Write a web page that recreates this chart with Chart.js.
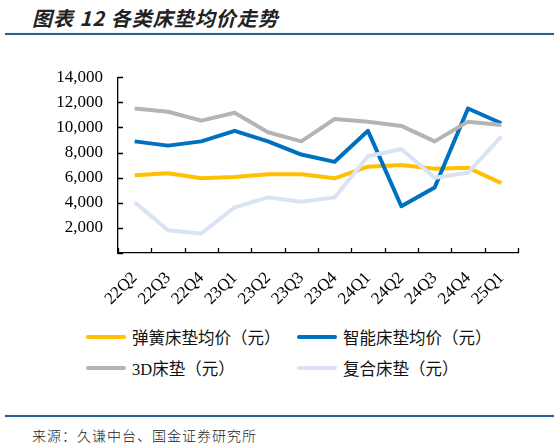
<!DOCTYPE html>
<html>
<head>
<meta charset="utf-8">
<script src="https://cdn.jsdelivr.net/npm/chart.js@4.4.1/dist/chart.umd.min.js"></script>
<style>
  body { margin: 0; background: #fff; width: 560px; height: 446px; position: relative; overflow: hidden;
         font-family: "Liberation Serif", "Noto Sans CJK SC", serif; color: #111; }
  #title { position: absolute; left: 32px; top: 3px; font-size: 20px; font-weight: bold; font-style: italic;
           font-family: "Noto Sans CJK SC", sans-serif; color: #222; letter-spacing: 1px; }
  .rule { position: absolute; left: 5px; width: 549px; height: 2px; background: #2A6391;
          box-shadow: 0 0 1px #7fa6c6; }
  #chartBox { position: absolute; left: 0; top: 60px; width: 540px; height: 255px; }
  #legend { position: absolute; left: 0; top: 0; }
  .item { position: absolute; height: 20px; display: flex; align-items: center; font-size: 16.5px; white-space: nowrap; }
  .swatch { width: 40px; height: 4px; border-radius: 2px; margin-right: 6px; }
  #source { position: absolute; left: 32px; top: 425px; font-size: 14px; color: #222;
            font-family: "Noto Sans CJK SC", sans-serif; font-weight: 300; letter-spacing: 1px; }
</style>
</head>
<body>
<div id="title">图表 12 各类床垫均价走势</div>
<div class="rule" style="top:33px"></div>
<div id="chartBox"><canvas id="priceChart"></canvas></div>
<div id="legend"></div>
<div class="rule" style="top:415px"></div>
<div id="source">来源：久谦中台、国金证券研究所</div>

<script>
// quarters on the x axis
const quarters = ['22Q2', '22Q3', '22Q4', '23Q1', '23Q2', '23Q3', '23Q4', '24Q1', '24Q2', '24Q3', '24Q4', '25Q1'];

// average prices, yuan
const springPrice = [6190, 6350, 5950, 6060, 6270, 6270, 5950, 6870, 7000, 6710, 6790, 5560];
const smartPrice = [8890, 8550, 8890, 9730, 8890, 7840, 7260, 9730, 3720, 5220, 11510, 10330];
const price3D = [11510, 11250, 10540, 11170, 9620, 8890, 10670, 10460, 10120, 8890, 10460, 10200];
const compositePrice = [4040, 1810, 1550, 3640, 4430, 4090, 4430, 7710, 8280, 6000, 6390, 9280];

const seriesNames = ['弹簧床垫均价（元）', '智能床垫均价（元）', '3D床垫（元）', '复合床垫（元）'];
const seriesColors = ['#FFC000', '#0070C0', '#B4B4B4', '#DAE3F3'];
const seriesData = [springPrice, smartPrice, price3D, compositePrice];

// y axis settings
const yMin = 0, yMax = 14000, yStep = 2000;

// legend is html so it can sit in two columns like the original
const legendSpots = [[86, 327], [297, 327], [86, 358], [297, 358]];
const legendEl = document.getElementById('legend');
seriesNames.forEach((name, i) => {
    const el = document.createElement('div');
    el.className = 'item';
    el.style.left = legendSpots[i][0] + 'px';
    el.style.top = legendSpots[i][1] + 'px';
    el.innerHTML = '<span class="swatch" style="background:' + seriesColors[i] + '"></span><span>' + name + '</span>';
    legendEl.appendChild(el);
});

// tick marks point into the plot, so draw them ourselves
const innerTicks = {
    id: 'innerTicks',
    afterDraw(chart) {
        const ctx = chart.ctx;
        const x = chart.scales.x, y = chart.scales.y;
        ctx.save();
        ctx.strokeStyle = '#000';
        ctx.lineWidth = 1.3;
        ctx.beginPath();
        for (let v = yMin; v <= yMax; v += yStep) {
            const py = Math.round(y.getPixelForValue(v)) + 0.5;
            ctx.moveTo(y.right, py);
            ctx.lineTo(y.right + 5, py);
        }
        for (let i = 0; i <= quarters.length; i++) {
            const px = Math.round(x.getPixelForValue(i - 0.5)) + 0.5;
            ctx.moveTo(px, x.top);
            ctx.lineTo(px, x.top - 5);
        }
        ctx.stroke();
        ctx.restore();
    }
};

const ctx = document.getElementById('priceChart').getContext('2d');
const priceChart = new Chart(ctx, {
    type: 'line',
    data: {
        labels: quarters,
        datasets: seriesData.map((d, i) => ({
            label: seriesNames[i],
            data: d,
            borderColor: seriesColors[i],
            backgroundColor: seriesColors[i],
            borderWidth: 4,
            pointRadius: 0,
            tension: 0,
            borderJoinStyle: 'round',
            order: seriesData.length - i
        }))
    },
    options: {
        responsive: true,
        maintainAspectRatio: false,
        animation: false,
        layout: { padding: { top: 17, right: 22, left: 0, bottom: 0 } },
        plugins: {
            legend: { display: false },
            tooltip: { enabled: false }
        },
        scales: {
            x: {
                offset: true,
                grid: { display: false, offset: true },
                border: { display: true, color: '#000', width: 1.3 },
                ticks: {
                    color: '#000',
                    font: { family: 'Liberation Serif', size: 17 },
                    minRotation: 45,
                    maxRotation: 45,
                    padding: 7
                },
                afterFit(scale) { scale.height = 62; }
            },
            y: {
                min: yMin,
                max: yMax,
                grid: { display: false },
                border: { display: true, color: '#000', width: 1.3 },
                ticks: {
                    stepSize: yStep,
                    color: '#000',
                    font: { family: 'Liberation Serif', size: 17 },
                    padding: 7,
                    callback: v => v === 0 ? '' : v.toLocaleString('en-US')
                },
                afterFit(scale) { scale.width = 118; }
            }
        }
    },
    plugins: [innerTicks]
});
</script>
</body>
</html>
